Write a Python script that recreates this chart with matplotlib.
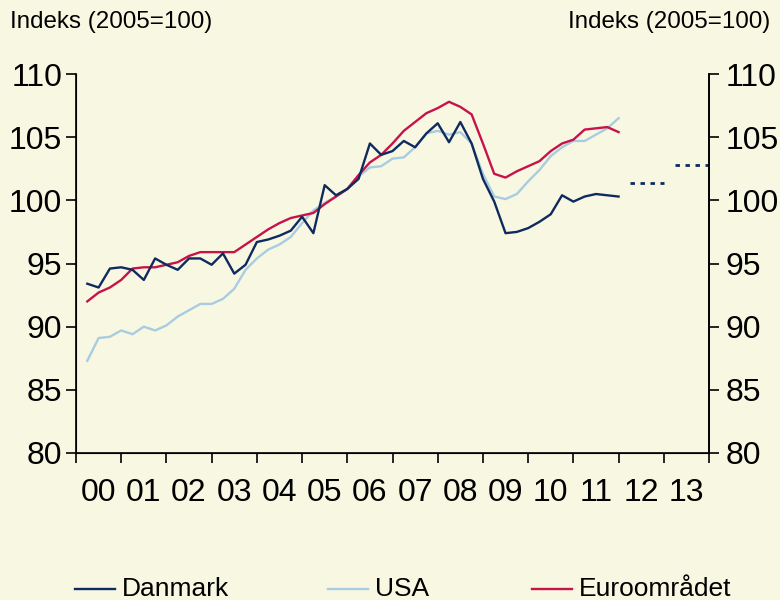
import matplotlib
matplotlib.use("Agg")
import matplotlib.pyplot as plt
from matplotlib.lines import Line2D

# quarterly index values 2000Q1 - 2011Q4 (2005=100)
danmark = [93.4, 93.1, 94.6, 94.7, 94.5, 93.7, 95.4, 94.9, 94.5, 95.4, 95.4, 94.9,
           95.8, 94.2, 94.9, 96.7, 96.9, 97.2, 97.6, 98.7, 97.4, 101.2, 100.4, 100.9,
           101.7, 104.5, 103.6, 103.9, 104.7, 104.2, 105.3, 106.1, 104.6, 106.2, 104.5, 101.7,
           99.9, 97.4, 97.5, 97.8, 98.3, 98.9, 100.4, 99.9, 100.3, 100.5, 100.4, 100.3]
usa = [87.3, 89.1, 89.2, 89.7, 89.4, 90.0, 89.7, 90.1, 90.8, 91.3, 91.8, 91.8,
       92.2, 93.0, 94.5, 95.4, 96.1, 96.5, 97.1, 98.2, 99.2, 99.8, 100.3, 100.9,
       101.9, 102.6, 102.7, 103.3, 103.4, 104.2, 105.3, 105.5, 105.2, 105.4, 104.5, 102.1,
       100.3, 100.1, 100.5, 101.5, 102.4, 103.5, 104.2, 104.7, 104.7, 105.2, 105.7, 106.5]
euro = [92.0, 92.7, 93.1, 93.7, 94.6, 94.7, 94.7, 94.9, 95.1, 95.6, 95.9, 95.9,
        95.9, 95.9, 96.5, 97.1, 97.7, 98.2, 98.6, 98.8, 99.0, 99.7, 100.3, 100.9,
        102.0, 103.0, 103.6, 104.5, 105.5, 106.2, 106.9, 107.3, 107.8, 107.4, 106.8, 104.5,
        102.1, 101.8, 102.3, 102.7, 103.1, 103.9, 104.5, 104.8, 105.6, 105.7, 105.8, 105.4]
# Danmark forecast, annual level for 2012 and 2013
forecast_2012 = [101.4] * 4
forecast_2013 = [102.8] * 4
years = ["00", "01", "02", "03", "04", "05", "06", "07", "08", "09", "10", "11", "12", "13"]
yticks = [80, 85, 90, 95, 100, 105, 110]

bg = "#F8F8E2"
c_dk = "#0E2A5F"
c_us = "#A8CCE0"
c_eu = "#C8124A"

plt.rcParams["font.family"] = ["Liberation Sans", "DejaVu Sans"]
fs_tick = 23
fs_title = 17.4
fs_leg = 19

fig = plt.figure(figsize=(7.8, 6), dpi=100, facecolor=bg)
ax = fig.add_axes([76 / 780, 1 - 453 / 600, 633 / 780, 379 / 600])
ax.set_facecolor(bg)

xq = [(i + 1) / 4 for i in range(len(danmark))]
lw = 1.7
ax.plot(xq, usa, color=c_us, lw=lw)
ax.plot(xq, euro, color=c_eu, lw=lw)
ax.plot(xq, danmark, color=c_dk, lw=lw)
x12 = [12 + (i + 1) / 4 for i in range(4)]
x13 = [13 + (i + 1) / 4 for i in range(4)]
ax.plot(x12, forecast_2012, color=c_dk, lw=2.0, ls=(0, (1.6, 2.0)), dash_capstyle="butt")
ax.plot(x13, forecast_2013, color=c_dk, lw=2.0, ls=(0, (1.6, 2.0)), dash_capstyle="butt")

ax.set_xlim(0, 14)
ax.set_ylim(80, 110)
ax.spines["top"].set_visible(False)
for s in ["left", "right", "bottom"]:
    ax.spines[s].set_linewidth(1.2)

ax.set_yticks(yticks)
ax.set_yticklabels([str(v) for v in yticks])
ax.tick_params(axis="y", direction="out", length=7, width=1.2, labelsize=fs_tick, pad=3)

ax.set_xticks(range(15))
ax.set_xticklabels([])
ax.tick_params(axis="x", which="major", direction="out", length=7, width=1.2)
ax.set_xticks([i + 0.5 for i in range(14)], minor=True)
ax.set_xticklabels(years, minor=True)
ax.tick_params(axis="x", which="minor", length=0, labelsize=fs_tick, pad=18)

ax2 = ax.twinx()
ax2.set_ylim(80, 110)
ax2.set_yticks(yticks)
ax2.set_yticklabels([str(v) for v in yticks])
ax2.tick_params(axis="y", direction="out", length=7, width=1.2, labelsize=fs_tick, pad=5)
ax2.spines["top"].set_visible(False)
ax2.spines["right"].set_linewidth(1.2)

fig.text(10 / 780, 1 - 22 / 600, "Indeks (2005=100)", ha="left", va="center", fontsize=fs_title)
fig.text(770 / 780, 1 - 22 / 600, "Indeks (2005=100)", ha="right", va="center", fontsize=fs_title)

# legend along the bottom edge
leg_y = 1 - 589 / 600
for x0, col, lab in [(75, c_dk, "Danmark"), (328, c_us, "USA"), (532, c_eu, "Euroområdet")]:
    fig.add_artist(Line2D([x0 / 780, (x0 + 40) / 780], [leg_y, leg_y], color=col, lw=lw))
    fig.text((x0 + 47) / 780, leg_y, lab, ha="left", va="center", fontsize=fs_leg)

fig.savefig("out.png", dpi=100, facecolor=bg)
